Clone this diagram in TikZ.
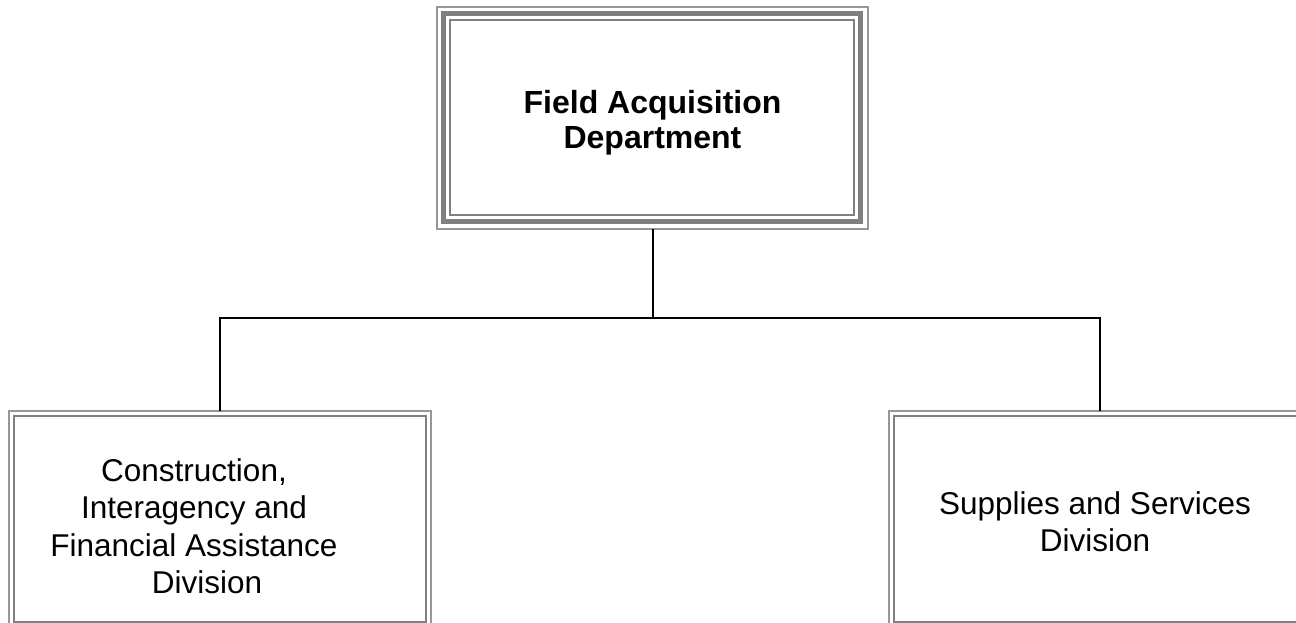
\documentclass[tikz,border=0pt]{standalone}
\usepackage{fontspec}
\setmainfont{Liberation Sans}
\definecolor{framegray}{RGB}{128,128,128}
\definecolor{framelight}{RGB}{150,150,150}
\tikzset{
  boxnode/.style={rectangle, draw=none, inner sep=0pt, align=center, text=black},
  topbox/.style={boxnode, minimum width=431pt, minimum height=222pt},
  subbox/.style={boxnode, minimum width=422pt, minimum height=216pt},
  toplabel/.style={align=center, font=\fontsize{32}{35}\selectfont\bfseries},
  leftlabel/.style={align=center, font=\fontsize{31.5}{37.5}\selectfont},
  rightlabel/.style={align=center, font=\fontsize{31.5}{37}\selectfont},
  conn/.style={draw=black, line width=2pt},
}
\begin{document}
\begin{tikzpicture}[x=1pt,y=1pt]
\useasboundingbox (0,0) rectangle (1296,622);
\clip (0,0) rectangle (1296,622);
% top box
\node[topbox] (top) at (652.5,504) {};
\node[toplabel] (toptext) at (652.5,499) {Field Acquisition\\Department};
\draw[framelight, line width=1.5pt] (top.north west) rectangle (top.south east);
\draw[framegray, line width=5pt] ([shift={(7,-7)}]top.north west) rectangle ([shift={(-7.5,7.5)}]top.south east);
\draw[framegray, line width=2pt] ([shift={(13.5,-13.5)}]top.north west) rectangle ([shift={(-14.5,14.5)}]top.south east);
% left box
\node[subbox] (left) at (220,103) {};
\node[leftlabel] (lefttext) at (194,96) {Construction,\\Interagency and\\Financial Assistance\\\hspace*{26pt}Division};
\draw[framelight, line width=2pt] (left.north west) rectangle (left.south east);
\draw[framegray, line width=2pt] ([shift={(5,-5)}]left.north west) rectangle ([shift={(-5,5)}]left.south east);
% right box
\node[subbox] (right) at (1100,103) {};
\node[rightlabel] (righttext) at (1095,100) {Supplies and Services\\Division};
\draw[framelight, line width=2pt] (right.north west) rectangle (right.south east);
\draw[framegray, line width=2pt] ([shift={(5,-5)}]right.north west) rectangle ([shift={(-5,5)}]right.south east);
% connectors
\coordinate (bus) at (652.5,304);
\draw[conn] (top.south) -- (bus);
\draw[conn] (left.north) |- (bus) -| (right.north);
\end{tikzpicture}
\end{document}
